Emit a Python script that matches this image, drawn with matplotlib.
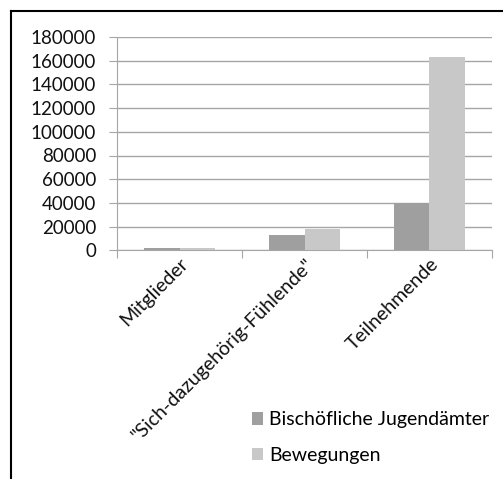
import numpy as np
import matplotlib.pyplot as plt
from matplotlib.lines import Line2D

plt.rcParams['font.family'] = ['Lato', 'DejaVu Sans']

kategorien = ['Mitglieder', '"Sich-dazugehörig-Fühlende"', 'Teilnehmende']
jugendaemter = [2200, 12900, 40000]
bewegungen = [2000, 18000, 163000]
serien = ['Bischöfliche Jugendämter', 'Bewegungen']
yticks = np.arange(0, 180001, 20000)

W, H = 503, 479
fig = plt.figure(figsize=(W / 100, H / 100), dpi=100)
ax = fig.add_axes([117 / W, 1 - 250.3 / H, (492 - 117) / W, (250.3 - 37) / H])

x = np.arange(len(kategorien))
b = 0.285
ax.bar(x - b / 2, jugendaemter, b, color='#9f9f9f', label=serien[0], zorder=3)
ax.bar(x + b / 2, bewegungen, b, color='#c8c8c8', label=serien[1], zorder=3)

ax.set_xlim(-0.5, 2.5)
ax.set_ylim(0, 180000)
ax.set_yticks(yticks)
ax.set_yticklabels([str(v) for v in yticks], fontsize=13.5, color='#111111')
ax.yaxis.grid(True, color='#a6a6a6', linewidth=1, zorder=0)

ax.set_xticks([-0.5, 0.5, 1.5, 2.5])
ax.set_xticklabels([])
ax.set_xticks(x + 0.05, minor=True)
ax.set_xticklabels(kategorien, minor=True, rotation=45, ha='right', va='center',
                   rotation_mode='anchor', fontsize=14, color='#111111')
ax.tick_params(axis='x', which='minor', length=0, pad=8)
ax.tick_params(axis='x', which='major', length=6, color='#a6a6a6', direction='out')
ax.tick_params(axis='y', length=6, color='#a6a6a6', pad=9)

for s in ['top', 'right']:
    ax.spines[s].set_visible(False)
ax.spines['left'].set_color('#a6a6a6')
ax.spines['bottom'].set_color('#a6a6a6')

fig.legend(loc='upper left', bbox_to_anchor=(234 / W, 1 - 394 / H),
           frameon=False, fontsize=14, handlelength=0.6, handleheight=0.6,
           handletextpad=0.3, labelspacing=0.95)

fig.add_artist(Line2D([11 / W, 11 / W], [0, 1 - 11 / H], color='black', linewidth=1.5))
fig.add_artist(Line2D([11 / W, 1], [1 - 11 / H, 1 - 11 / H], color='black', linewidth=1.5))

fig.savefig('out.png', dpi=100)
